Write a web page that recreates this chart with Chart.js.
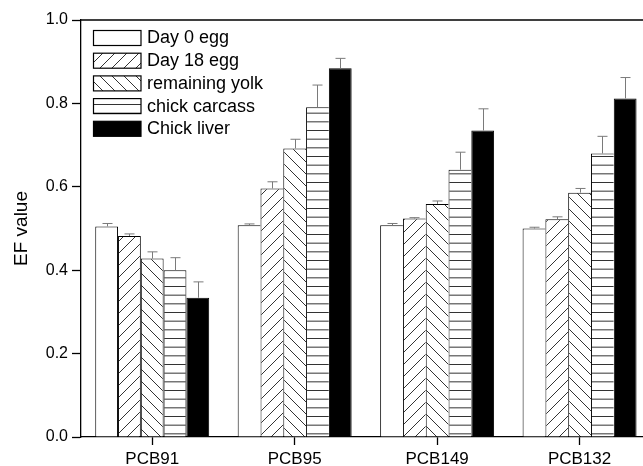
<!DOCTYPE html>
<html>
<head>
<meta charset="utf-8">
<script src="https://cdn.jsdelivr.net/npm/chart.js@4"></script>
<style>
  html, body { margin: 0; padding: 0; background: #fff; overflow: hidden; }
  #wrap { position: relative; width: 662px; height: 466px; }
</style>
</head>
<body>
<div id="wrap"><canvas id="c"></canvas></div>
<script>
// Enantiomer fraction (EF) of chiral PCBs across egg / chick compartments
const categories = ['PCB91', 'PCB95', 'PCB149', 'PCB132'];

const seriesNames = ['Day 0 egg', 'Day 18 egg', 'remaining yolk', 'chick carcass', 'Chick liver'];

const day0Egg      = [0.505, 0.508, 0.508, 0.500];
const day0EggErr   = [0.007, 0.003, 0.004, 0.003];
const day18Egg     = [0.482, 0.596, 0.524, 0.522];
const day18EggErr  = [0.005, 0.016, 0.002, 0.006];
const yolk         = [0.428, 0.692, 0.559, 0.586];
const yolkErr      = [0.016, 0.022, 0.007, 0.010];
const carcass      = [0.400, 0.791, 0.641, 0.680];
const carcassErr   = [0.030, 0.053, 0.042, 0.041];
const liver        = [0.334, 0.884, 0.735, 0.812];
const liverErr     = [0.038, 0.024, 0.052, 0.050];

const yTicks = [0, 0.2, 0.4, 0.6, 0.8, 1.0];

const FONT = "'Liberation Sans', Arial, Helvetica, sans-serif";

const canvas = document.getElementById('c');
const mainCtx = canvas.getContext('2d');

// Fill patterns: hatches and horizontal rules, painted on small repeating tiles
function makePattern(kind) {
  const w = kind === 'h' ? 26 : 12;
  const h = kind === 'h' ? 26 : 12;
  const t = document.createElement('canvas');
  t.width = w; t.height = h;
  const g = t.getContext('2d');
  g.fillStyle = '#fff';
  g.fillRect(0, 0, w, h);
  g.strokeStyle = '#333';
  g.lineWidth = 1;
  g.beginPath();
  if (kind === '/') {
    g.moveTo(-1, h + 1); g.lineTo(w + 1, -1);
    g.moveTo(-1, 1); g.lineTo(1, -1);
    g.moveTo(w - 1, h + 1); g.lineTo(w + 1, h - 1);
  } else if (kind === '\\') {
    g.moveTo(-1, -1); g.lineTo(w + 1, h + 1);
    g.moveTo(w - 1, -1); g.lineTo(w + 1, 1);
    g.moveTo(-1, h - 1); g.lineTo(1, h + 1);
  } else {
    [0.5, 9.17, 17.83].forEach(y => { g.moveTo(0, y); g.lineTo(w, y); });
  }
  g.stroke();
  return mainCtx.createPattern(t, 'repeat');
}

const fills = ['#ffffff', makePattern('/'), makePattern('\\'), makePattern('h'), '#000000'];
const values = [day0Egg, day18Egg, yolk, carcass, liver];
const errors = [day0EggErr, day18EggErr, yolkErr, carcassErr, liverErr];

// Shared edges are drawn once: a bar keeps its right edge only where the next bar is lower
function barBorder(ctx) {
  const di = ctx.datasetIndex, i = ctx.dataIndex;
  const ds = ctx.chart.data.datasets;
  const next = ds[di + 1];
  const right = (!next || next.data[i] < ds[di].data[i]) ? 1 : 0;
  return { top: 1, left: 1, right: right, bottom: 0 };
}

const datasets = seriesNames.map((name, k) => ({
  label: name,
  data: values[k],
  errors: errors[k],
  backgroundColor: fills[k],
  borderColor: '#000',
  borderWidth: barBorder,
  borderSkipped: false,
  categoryPercentage: 0.8,
  barPercentage: 1.0
}));

// Upward-only error bars with caps
const errorBars = {
  id: 'errorBars',
  afterDatasetsDraw(chart) {
    const { ctx } = chart;
    const y = chart.scales.y;
    ctx.save();
    ctx.strokeStyle = '#7a7a7a';
    ctx.lineWidth = 1;
    chart.data.datasets.forEach((ds, i) => {
      chart.getDatasetMeta(i).data.forEach((bar, j) => {
        const x = Math.round(bar.x) + 0.5;
        const yTop = y.getPixelForValue(ds.data[j] + ds.errors[j]);
        ctx.beginPath();
        ctx.moveTo(x, bar.y);
        ctx.lineTo(x, yTop);
        ctx.moveTo(x - 5, yTop);
        ctx.lineTo(x + 5, yTop);
        ctx.stroke();
      });
    });
    ctx.restore();
  }
};

// Top and right edges of the plot frame
const frame = {
  id: 'frame',
  afterDraw(chart) {
    const { ctx, chartArea: a } = chart;
    ctx.save();
    ctx.strokeStyle = '#000';
    ctx.lineWidth = 1.3;
    ctx.beginPath();
    ctx.moveTo(a.left, a.top);
    ctx.lineTo(a.right, a.top);
    ctx.lineTo(a.right, a.bottom);
    ctx.stroke();
    ctx.restore();
  }
};

// Legend stacked in the upper-left corner of the plot
const insetLegend = {
  id: 'insetLegend',
  afterDraw(chart) {
    const { ctx, chartArea: a } = chart;
    const x0 = a.left + 12.5, y0 = a.top + 10.5;
    const bw = 47.5, bh = 15, step = 22.7;
    ctx.save();
    ctx.font = '18px ' + FONT;
    ctx.textBaseline = 'middle';
    ctx.textAlign = 'left';
    chart.data.datasets.forEach((ds, i) => {
      const y = y0 + i * step;
      ctx.fillStyle = ds.backgroundColor;
      ctx.fillRect(x0, y, bw, bh);
      ctx.strokeStyle = '#000';
      ctx.lineWidth = 1.2;
      ctx.strokeRect(x0, y, bw, bh);
      ctx.fillStyle = '#000';
      ctx.fillText(ds.label, x0 + bw + 6, y + bh / 2 + 0.5);
    });
    ctx.restore();
  }
};

new Chart(canvas, {
  type: 'bar',
  data: { labels: categories, datasets },
  plugins: [errorBars, frame, insetLegend],
  options: {
    responsive: true,
    maintainAspectRatio: false,
    animation: false,
    layout: { padding: { top: 20, right: 11.2, left: 0, bottom: 0 } },
    plugins: { legend: { display: false }, tooltip: { enabled: false } },
    scales: {
      x: {
        offset: true,
        grid: { display: true, drawOnChartArea: false, offset: false, tickLength: 8, tickColor: '#000', tickWidth: 1.3 },
        border: { display: true, color: '#000', width: 1.3 },
        ticks: { color: '#000', font: { family: FONT, size: 17 }, padding: 4 },
        afterFit(s) { s.height = 29; }
      },
      y: {
        min: 0,
        max: 1,
        afterBuildTicks(s) { s.ticks = yTicks.map(v => ({ value: v })); },
        grid: { display: true, drawOnChartArea: false, tickLength: 9, tickColor: '#000', tickWidth: 1.3 },
        border: { display: true, color: '#000', width: 1.3 },
        ticks: { color: '#000', font: { family: FONT, size: 16 }, padding: 4, callback: v => Number(v).toFixed(1) },
        title: { display: true, text: 'EF value', color: '#000', font: { family: FONT, size: 19 }, padding: { top: 10, bottom: 0 } },
        afterFit(s) { s.width = 81; }
      }
    }
  }
});
</script>
</body>
</html>
